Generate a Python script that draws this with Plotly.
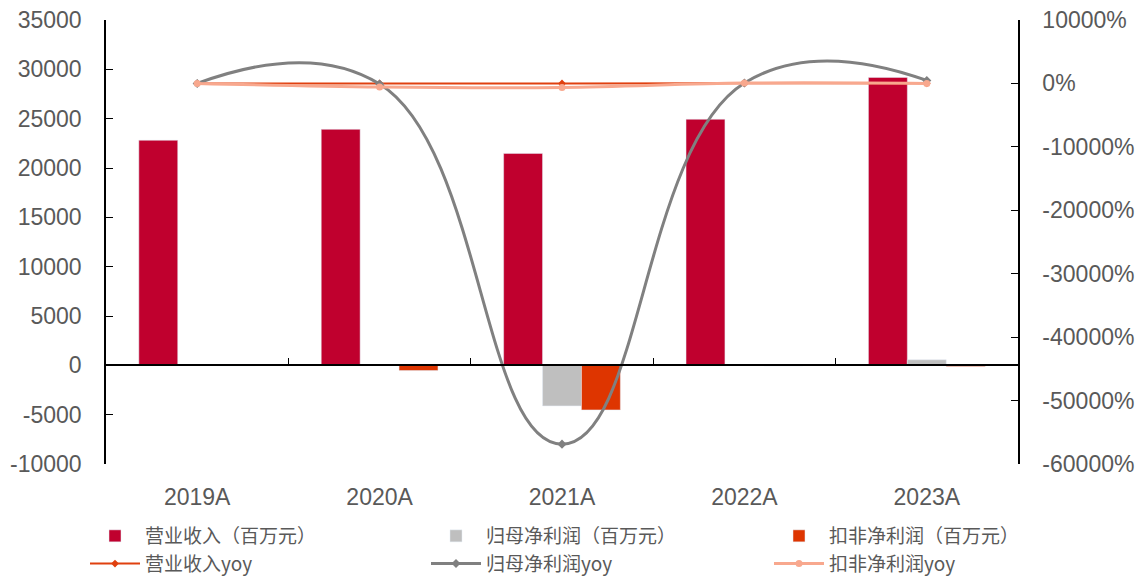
import plotly.graph_objects as go

years = ["2019A", "2020A", "2021A", "2022A", "2023A"]
revenue = [22810, 23920, 21480, 24940, 29180]
net_profit = [40, 30, -4110, 40, 560]
deducted_profit = [-40, -530, -4520, -60, -110]
revenue_yoy = [8, 5, -10, 16, 17]
net_profit_yoy = [0, -80, -56870, 60, 470]
deducted_yoy = [0, -580, -650, 50, 0]

left_ticks = [-10000, -5000, 0, 5000, 10000, 15000, 20000, 25000, 30000, 35000]
right_ticks = [-60000, -50000, -40000, -30000, -20000, -10000, 0, 10000]

font_cn = "Noto Sans CJK SC"
font_num = "Liberation Sans, Arial"
txt = "#595959"

fig = go.Figure()
fig.add_bar(x=years, y=revenue, name="营业收入（百万元）", marker_color="#C0002E", legend="legend")
fig.add_bar(x=years, y=net_profit, name="归母净利润（百万元）", marker_color="#BFBFBF", legend="legend2")
fig.add_bar(x=years, y=deducted_profit, name="扣非净利润（百万元）", marker_color="#DE3500", legend="legend3")
fig.add_scatter(x=years, y=revenue_yoy, name="营业收入yoy", yaxis="y2", mode="lines+markers",
                line=dict(color="#E0400F", width=2, shape="spline"),
                marker=dict(symbol="diamond", size=6, color="#E0400F"), legend="legend")
fig.add_scatter(x=years, y=net_profit_yoy, name="归母净利润yoy", yaxis="y2", mode="lines+markers",
                line=dict(color="#808080", width=3, shape="spline", smoothing=1.3),
                marker=dict(symbol="diamond", size=7, color="#808080"), legend="legend2")
fig.add_scatter(x=years, y=deducted_yoy, name="扣非净利润yoy", yaxis="y2", mode="lines+markers",
                line=dict(color="#F8A88E", width=3, shape="spline"),
                marker=dict(symbol="circle", size=7, color="#F8A88E"), legend="legend3")
# helper invisible trace for the zero-line category ticks
fig.add_scatter(x=years, y=[0]*5, xaxis="x2", mode="markers", marker=dict(opacity=0),
                showlegend=False, hoverinfo="skip")

y0, y1 = -10000, 35000
W, H = 1140, 577
PL, PR, PT, PB = 106, 1018, 20, 464

def legend_at(px_left, px_top=517):
    return dict(orientation="v", x=(px_left - PL) / (PR - PL), xanchor="left",
                yref="container", y=1 - px_top / H, yanchor="top", itemwidth=50,
                font=dict(family=font_cn, size=19, color=txt),
                tracegroupgap=0, traceorder="normal", bgcolor="rgba(0,0,0,0)")

tickfont = dict(size=23, family=font_num, color=txt)

fig.update_layout(
    width=W, height=H,
    margin=dict(l=PL, r=W - PR, t=PT, b=H - PB, autoexpand=False),
    paper_bgcolor="white", plot_bgcolor="white",
    barmode="group", bargap=0.36, bargroupgap=0.0,
    font=dict(family=font_num, size=20, color=txt),
    xaxis=dict(type="category", showline=False, ticks="outside", ticklen=12,
               tickcolor="rgba(0,0,0,0)", showgrid=False, tickfont=tickfont,
               automargin=False),
    xaxis2=dict(type="category", overlaying="x", matches="x", anchor="free",
                position=(0 - y0) / (y1 - y0), showticklabels=False,
                showline=True, linecolor="#000000", linewidth=1.5,
                ticks="inside", tickson="boundaries", ticklen=7, tickcolor="#000000",
                showgrid=False, automargin=False),
    yaxis=dict(range=[y0, y1], tickvals=left_ticks, ticktext=[str(v) for v in left_ticks],
               showgrid=False, zeroline=False,
               showline=True, linecolor="#000000", linewidth=1.5,
               ticks="inside", ticklen=7, tickcolor="#000000",
               ticklabelstandoff=18, tickfont=tickfont, automargin=False),
    yaxis2=dict(range=[-60000, 10000], tickvals=right_ticks,
                ticktext=[f"{v}%" for v in right_ticks], overlaying="y", side="right",
                showgrid=False, zeroline=False,
                showline=True, linecolor="#000000", linewidth=1.5,
                ticks="inside", ticklen=7, tickcolor="#000000",
                ticklabelstandoff=18, tickfont=tickfont, automargin=False),
    legend=legend_at(85),
    legend2=legend_at(426),
    legend3=legend_at(769),
    showlegend=True,
)

fig.write_html("out.html")
